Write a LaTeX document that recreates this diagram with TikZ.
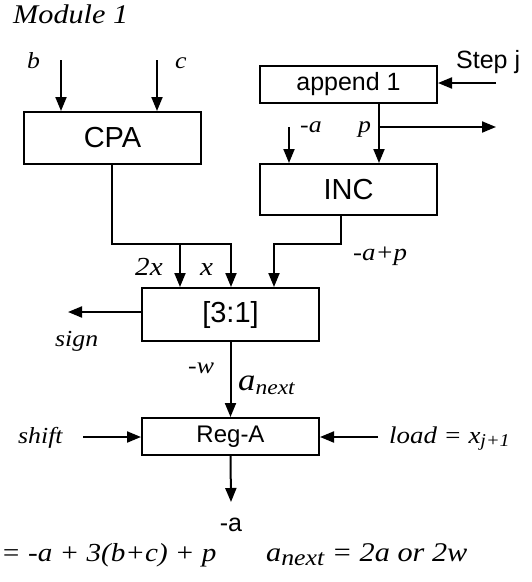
\documentclass[tikz,border=0pt]{standalone}
\usepackage{fontspec}
\setmainfont{Liberation Serif}
\newfontfamily\itf[FakeStretch=1.12]{Liberation Serif}
\newfontfamily\sff{Liberation Sans}
\usetikzlibrary{arrows.meta}
\newcommand\fs[1]{\fontsize{#1}{#1}\selectfont}
\newcommand\lowsub[2]{\raisebox{-0.35ex}{\fs{#1}#2}}
\tikzset{
  box/.style={draw, line width=2pt, inner sep=0pt, font=\sff\fs{29}},
  conn/.style={line width=2pt},
  arr/.style={conn, -{Triangle[length=14pt,width=11pt]}},
  it/.style={font=\itf\itshape\fs{#1}, inner sep=0pt},
  sf/.style={font=\sff\fs{#1}, inner sep=0pt},
}
\begin{document}
\begin{tikzpicture}[x=1pt,y=-1pt]
\useasboundingbox (0,0) rectangle (532,582);
% boxes
\node[box, minimum width=177pt, minimum height=52pt] (cpa) at (112.5,138) {CPA};
\node[box, minimum width=177pt, minimum height=37pt, font=\sff\fs{25}] (app) at (348.5,84.5) {append 1};
\node[box, minimum width=177pt, minimum height=51pt] (inc) at (348.5,189.5) {INC};
\node[box, minimum width=177pt, minimum height=53pt] (mux) at (230.5,314.5) {[3:1]};
\node[box, minimum width=177pt, minimum height=37pt, font=\sff\fs{24}] (reg) at (230.5,436.5) {Reg-A};
% labels
\node[it=27, anchor=base west] (title) at (13,23) {Module 1};
\node[it=23, anchor=base west] (lb) at (27,68) {b};
\node[it=23, anchor=base west] (lc) at (175,68) {c};
\node[sf=25, anchor=base west] (lstep) at (456,68) {Step j};
\node[it=23, anchor=base west] (lma) at (300,132) {-a};
\node[it=23, anchor=base west] (lp) at (358,132) {p};
\node[it=24, anchor=base west] (lmap) at (353,260) {-a+p};
\node[it=26, anchor=base west] (l2x) at (135,275) {2x};
\node[it=26, anchor=base west] (lx) at (200,275) {x};
\node[it=23, anchor=base west] (lsign) at (55,346) {sign};
\node[it=23, anchor=base west] (lmw) at (188,373) {-w};
\node[it=31, anchor=base west] (lanext) at (238,390) {a\lowsub{21}{next}};
\node[it=23, anchor=base west] (lshift) at (18,443) {shift};
\node[it=24, anchor=base west] (lload) at (389,443) {load = x\lowsub{18}{j+1}};
\node[sf=25, anchor=base] (lout) at (231,531) {-a};
\node[it=26, anchor=base west] (f1) at (1,561) {= -a + 3(b+c) + p};
\node[it=27, anchor=base west] (f2) at (266,561) {a\lowsub{23}{next} = 2a or 2w};
% free ends
\coordinate (bin) at (61,60);
\coordinate (cin) at (157,60);
\coordinate (sj) at (496,83);
\coordinate (pj) at (379,127);
\coordinate (pout) at (496,127);
\coordinate (ain) at (289,127);
\coordinate (k1) at (341,244);
\coordinate (k2) at (274,244);
\coordinate (j1) at (112,244);
\coordinate (j2) at (231,244);
\coordinate (j3) at (180,244);
\coordinate (signend) at (68,312);
\coordinate (shin) at (83,437);
\coordinate (ldin) at (378,437);
\coordinate (aout) at (231,502);
% connectors
\draw[arr] (bin) -- (bin |- cpa.north);
\draw[arr] (cin) -- (cin |- cpa.north);
\draw[arr] (sj) -- (sj -| app.east);
\draw[arr] (app.south -| pj) -- (pj |- inc.north);
\draw[arr] (pj) -- (pout);
\draw[arr] (ain) -- (ain |- inc.north);
\draw[arr] (inc.south -| k1) -- (k1) -- (k2) -- (k2 |- mux.north);
\draw[arr] (cpa.south -| j1) -- (j1) -- (j2) -- (j2 |- mux.north);
\draw[arr] (j3) -- (j3 |- mux.north);
\draw[arr] (mux.west |- signend) -- (signend);
\draw[arr] (mux.south) -- (reg.north);
\draw[arr] (shin) -- (shin -| reg.west);
\draw[arr] (ldin) -- (ldin -| reg.east);
\draw[arr] (reg.south) -- (aout);
\end{tikzpicture}
\end{document}
